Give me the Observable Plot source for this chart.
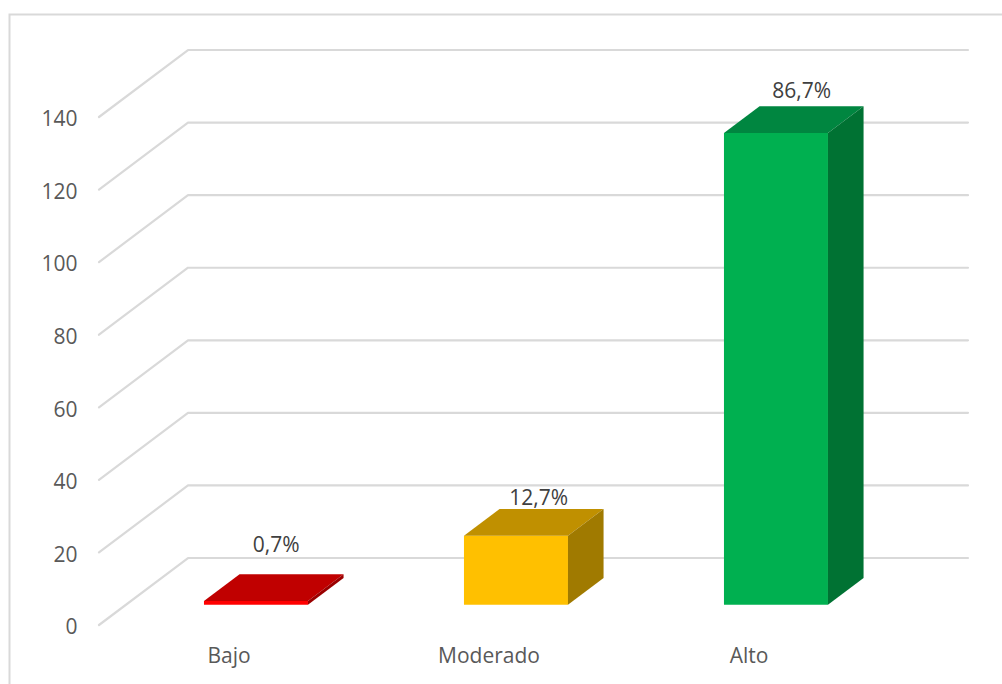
<!DOCTYPE html>
<html>
<head>
<meta charset="utf-8">
<script src="https://cdn.jsdelivr.net/npm/d3@7"></script>
<script src="https://cdn.jsdelivr.net/npm/@observablehq/plot@0.6"></script>
<style>html,body{margin:0;padding:0;background:#fff;overflow:hidden}</style>
</head>
<body>
<div id="chart"></div>
<script>
const categories = ["Bajo", "Moderado", "Alto"];
const counts = [1, 19, 130];
const percentLabels = ["0,7%", "12,7%", "86,7%"];
const frontColors = ["#FF0000", "#FFC000", "#00B050"];
const topColors = ["#C00000", "#C09000", "#008640"];
const sideColors = ["#9A0000", "#A07A00", "#007233"];
const yTicks = [0, 20, 40, 60, 80, 100, 120, 140];
const labelOffsets = [[2.5, -42], [5, -24], [8, -28]];

// Oblique projection: depth z (0 = front of the floor, 1 = back wall), in data units
const depthX = 0.3423, depthY = 18.46;
const project = (x, v, z) => ({px: x + z * depthX, py: v + z * depthY});
const barHalf = 0.2, z0 = 0.303, z1 = 0.703;
const xMax = categories.length;

const gridRows = yTicks.flatMap((t) => [
  {key: t, ...project(0, t, 0)},
  {key: t, ...project(0, t, 1)},
  {key: t, ...project(xMax, t, 1)}
]);

const faceRows = categories.flatMap((c, i) => {
  const a = i + 0.5 - barHalf, b = i + 0.5 + barHalf, v = counts[i];
  const face = (name, color, pts) => pts.map(([x, y, z]) => ({key: c + name, color, ...project(x, y, z)}));
  return [
    ...face("front", frontColors[i], [[a, 0, z0], [b, 0, z0], [b, v, z0], [a, v, z0]]),
    ...face("top", topColors[i], [[a, v, z0], [b, v, z0], [b, v, z1], [a, v, z1]]),
    ...face("side", sideColors[i], [[b, 0, z0], [b, v, z0], [b, v, z1], [b, 0, z1]])
  ];
});

const labelMarks = categories.map((c, i) => {
  const p = project(i + 0.5, counts[i], (z0 + z1) / 2);
  return Plot.text([percentLabels[i]], {
    x: () => p.px, y: () => p.py, text: (d) => d,
    dx: labelOffsets[i][0], dy: labelOffsets[i][1],
    fill: "#404040", fontSize: 21
  });
});

const chart = Plot.plot({
  width: 1002, height: 684,
  marginLeft: 98.5, marginRight: 123.5, marginTop: 116.5, marginBottom: 59.5,
  style: {background: "#fff", fontFamily: "'Open Sans'", fontSize: "21px"},
  x: {domain: [0, xMax], axis: null},
  y: {domain: [0, 140], axis: null},
  color: {type: "identity"},
  marks: [
    Plot.frame({stroke: "#d9d9d9", strokeWidth: 2, insetLeft: -89.5, insetTop: -102.5, insetRight: -140, insetBottom: -80}),
    Plot.line(gridRows, {x: "px", y: "py", z: "key", stroke: "#d9d9d9", strokeWidth: 2.2}),
    Plot.line(faceRows, {x: "px", y: "py", z: "key", fill: "color", stroke: "none"}),
    Plot.axisY({ticks: yTicks, tickSize: 0, tickPadding: 21.5, dy: 2.5, color: "#595959", fontSize: 21, label: null}),
    Plot.axisX({ticks: categories.map((c, i) => i + 0.5), tickFormat: (d) => categories[Math.floor(d)],
      tickSize: 0, tickPadding: 23.5, color: "#595959", fontSize: 21, label: null}),
    ...labelMarks
  ]
});
document.getElementById("chart").appendChild(chart);
</script>
</body>
</html>
